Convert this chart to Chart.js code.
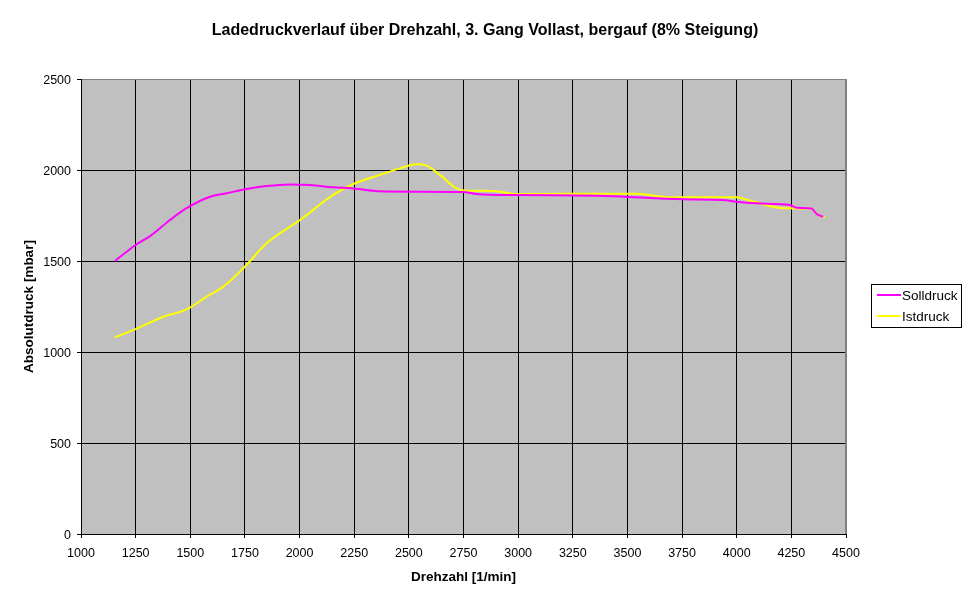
<!DOCTYPE html>
<html>
<head>
<meta charset="utf-8">
<script src="https://cdn.jsdelivr.net/npm/chart.js@4.4.1/dist/chart.umd.min.js"></script>
<style>
html,body{margin:0;padding:0;background:#fff;}
canvas{display:block;}
</style>
</head>
<body>
<canvas id="c" width="970" height="604"></canvas>
<script>
const chartTitle = 'Ladedruckverlauf über Drehzahl, 3. Gang Vollast, bergauf (8% Steigung)';
const xTitle = 'Drehzahl [1/min]';
const yTitle = 'Absolutdruck [mbar]';
const seriesNames = ['Solldruck', 'Istdruck'];

const sollRpm  = [1155, 1250, 1316, 1407, 1483, 1590, 1666, 1758, 1849, 1956, 2048, 2153, 2244, 2368, 2519, 2747, 2810, 2977, 3359, 3756, 3938, 3999, 4090, 4182, 4243, 4274, 4343, 4366, 4396];
const sollMbar = [1500, 1588, 1637, 1725, 1790, 1853, 1872, 1896, 1912, 1921, 1918, 1905, 1899, 1883, 1881, 1879, 1868, 1862, 1859, 1839, 1835, 1826, 1817, 1813, 1808, 1793, 1788, 1758, 1743];

const istRpm  = [1155, 1250, 1377, 1483, 1575, 1651, 1743, 1849, 2002, 2154, 2246, 2368, 2459, 2535, 2581, 2642, 2719, 2764, 2886, 2993, 3542, 3694, 3999, 4060, 4213, 4343, 4366, 4404];
const istMbar = [1081, 1126, 1194, 1234, 1304, 1359, 1460, 1597, 1725, 1863, 1923, 1973, 2009, 2031, 2024, 1973, 1899, 1886, 1885, 1868, 1870, 1850, 1850, 1832, 1790, 1788, 1758, 1740];

const xMin = 1000, xMax = 4500, xStep = 250;
const yMin = 0, yMax = 2500, yStep = 500;

function pts(xs, ys){ return xs.map((x,i)=>({x:x, y:ys[i]})); }

const FONT = '"Liberation Sans", Arial, sans-serif';

const bgPlugin = {
  id: 'plotBg',
  beforeDraw(chart){
    const {ctx, chartArea:a} = chart;
    ctx.save();
    ctx.fillStyle = '#c0c0c0';
    ctx.fillRect(a.left, a.top, a.right - a.left, a.bottom - a.top);
    ctx.restore();
  },
  afterDatasetsDraw(chart){
    const {ctx, chartArea:a} = chart;
    ctx.save();
    ctx.strokeStyle = '#808080';
    ctx.lineWidth = 1;
    ctx.beginPath();
    ctx.moveTo(a.left, a.top + 0.5);
    ctx.lineTo(a.right - 0.5, a.top + 0.5);
    ctx.lineTo(a.right - 0.5, a.bottom);
    ctx.stroke();
    ctx.strokeStyle = '#000';
    ctx.beginPath();
    ctx.moveTo(a.left + 0.5, a.top);
    ctx.lineTo(a.left + 0.5, a.bottom + 0.5);
    ctx.lineTo(a.right, a.bottom + 0.5);
    ctx.stroke();
    ctx.restore();
  },
  afterDraw(chart){
    const {ctx} = chart;
    ctx.save();
    ctx.font = 'bold 16px ' + FONT;
    ctx.fillStyle = '#000';
    ctx.textAlign = 'center';
    ctx.textBaseline = 'middle';
    ctx.fillText(chartTitle, 485, 31);
    ctx.restore();
  }
};

const legendPlugin = {
  id: 'boxLegend',
  afterDraw(chart){
    const {ctx} = chart;
    const bx = 871, by = 284, bw = 90, bh = 43;
    ctx.save();
    ctx.fillStyle = '#fff';
    ctx.fillRect(bx, by, bw, bh);
    ctx.strokeStyle = '#000';
    ctx.lineWidth = 1;
    ctx.strokeRect(bx + 0.5, by + 0.5, bw, bh);
    ctx.font = '13.5px ' + FONT;
    ctx.textBaseline = 'middle';
    ctx.textAlign = 'left';
    chart.data.datasets.forEach((ds, i) => {
      const y = by + 11 + i * 21;
      ctx.strokeStyle = ds.borderColor;
      ctx.lineWidth = 2;
      ctx.beginPath();
      ctx.moveTo(bx + 6, y);
      ctx.lineTo(bx + 30, y);
      ctx.stroke();
      ctx.fillStyle = '#000';
      ctx.fillText(ds.label, bx + 31, y + 1);
    });
    ctx.restore();
  }
};

new Chart(document.getElementById('c'), {
  type: 'line',
  data: {
    datasets: [
      { label: seriesNames[0], data: pts(sollRpm, sollMbar), borderColor: '#ff00ff', borderWidth: 2, pointRadius: 0, tension: 0.4, cubicInterpolationMode: 'monotone', fill: false },
      { label: seriesNames[1], data: pts(istRpm, istMbar), borderColor: '#ffff00', borderWidth: 2, pointRadius: 0, tension: 0.4, cubicInterpolationMode: 'monotone', fill: false }
    ]
  },
  options: {
    responsive: false,
    animation: false,
    devicePixelRatio: 1,
    layout: { padding: { left: 0, right: 124, top: 79, bottom: 0 } },
    plugins: {
      legend: { display: false },
      tooltip: { enabled: false },
      title: { display: false }
    },
    scales: {
      x: {
        type: 'linear',
        min: xMin, max: xMax,
        afterFit(s){ s.height = 70; },
        afterBuildTicks(s){ s.ticks = []; for (let v = xMin; v <= xMax; v += xStep) s.ticks.push({value:v}); },
        ticks: { color: '#000', font: { family: FONT, size: 12.5 }, padding: 8, maxRotation: 0, autoSkip: false, callback: v => String(v) },
        grid: {
          color: c => (c.tick && c.tick.value === xMax) ? '#808080' : '#000',
          lineWidth: 1, tickLength: 4, tickColor: '#000', drawTicks: true
        },
        border: { display: false },
        title: { display: true, text: xTitle, color: '#000', font: { family: FONT, size: 13.5, weight: 'bold', lineHeight: 1.2 }, padding: { top: 0, bottom: 19 } }
      },
      y: {
        type: 'linear',
        min: yMin, max: yMax,
        afterFit(s){ s.width = 81; },
        afterBuildTicks(s){ s.ticks = []; for (let v = yMin; v <= yMax; v += yStep) s.ticks.push({value:v}); },
        ticks: { color: '#000', font: { family: FONT, size: 12.5 }, padding: 6, labelOffset: 1.5, callback: v => String(v) },
        grid: {
          color: c => (c.tick && c.tick.value === yMax) ? '#808080' : '#000',
          lineWidth: 1, tickLength: 4, tickColor: '#000', drawTicks: true
        },
        border: { display: false },
        title: { display: true, text: yTitle, color: '#000', font: { family: FONT, size: 13.5, weight: 'bold', lineHeight: 1.2 }, padding: { top: 21, bottom: 0 } }
      }
    }
  },
  plugins: [bgPlugin, legendPlugin]
});
</script>
</body>
</html>
